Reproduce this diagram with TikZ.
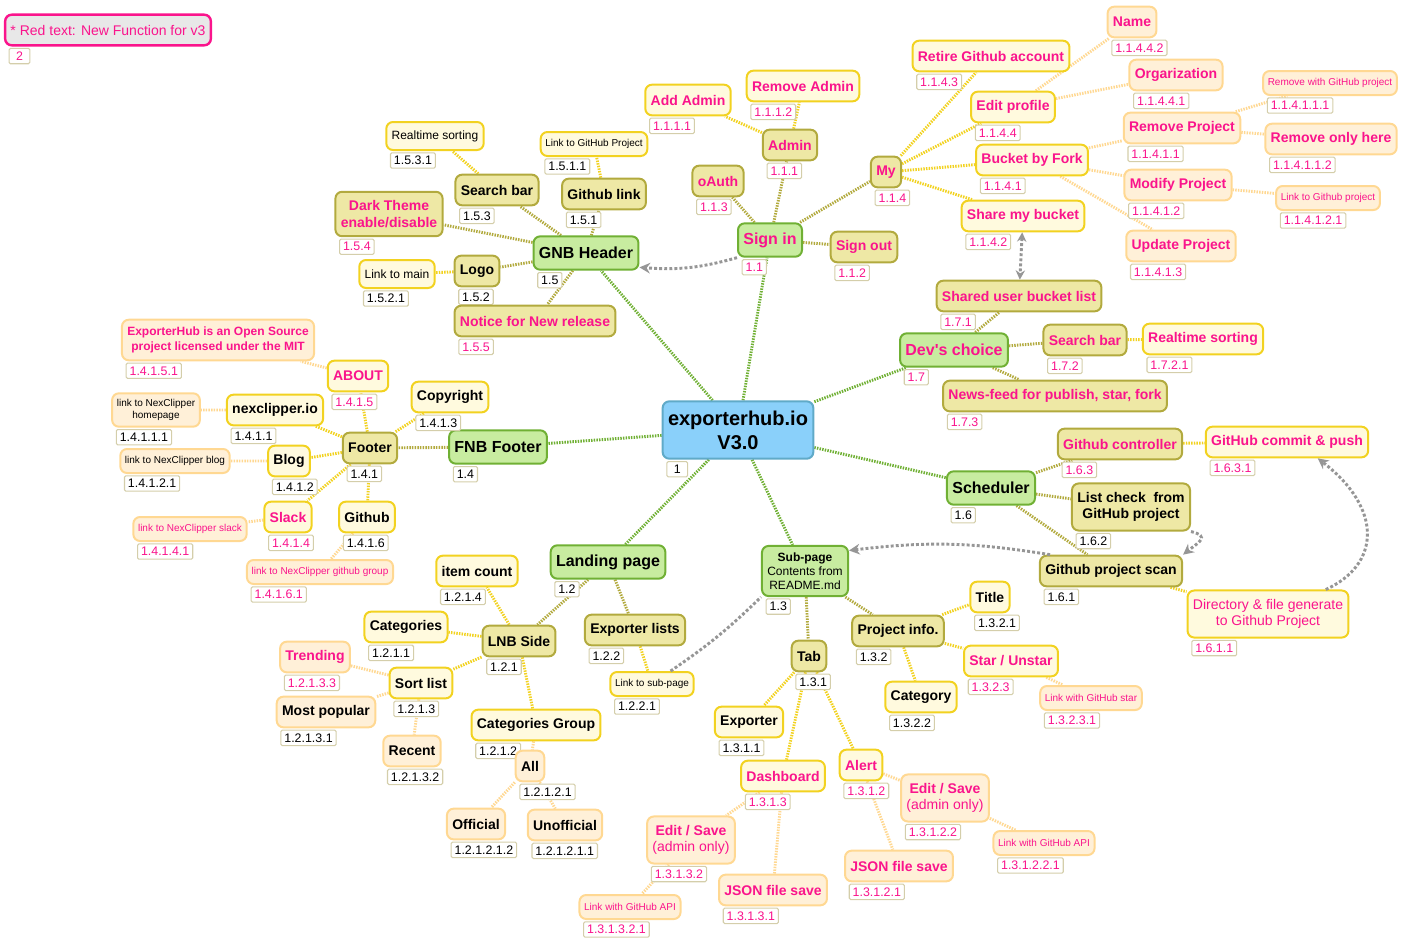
\documentclass[tikz,border=0pt]{standalone}
\usepackage{fontspec}
\setmainfont{Liberation Sans}
\usepackage{tikz}
\usetikzlibrary{positioning}
\usetikzlibrary{arrows.meta}
\usetikzlibrary{backgrounds}

\definecolor{pk}{RGB}{250,20,140}
\definecolor{rootf}{RGB}{138,208,250}
\definecolor{rootd}{RGB}{96,170,200}
\definecolor{grnf}{RGB}{200,236,160}
\definecolor{grnd}{RGB}{112,176,52}
\definecolor{olvf}{RGB}{238,232,165}
\definecolor{olvd}{RGB}{178,170,62}
\definecolor{ylwf}{RGB}{255,250,222}
\definecolor{ylwd}{RGB}{242,210,32}
\definecolor{orgf}{RGB}{255,240,216}
\definecolor{orgd}{RGB}{255,216,146}
\definecolor{numd}{RGB}{212,206,170}
\definecolor{legf}{RGB}{232,232,232}
\definecolor{gry}{RGB}{150,150,150}

\begin{document}
\begin{tikzpicture}[x=0.75pt, y=-0.75pt,
  box/.style={draw, rounded corners=5pt, line width=1.5pt, inner xsep=4pt, inner ysep=3pt,
    minimum height=23pt, font=\fontsize{10.5}{12.5}\selectfont\bfseries},
  root/.style={box, fill=rootf, draw=rootd, align=center, inner ysep=7pt,
    font=\fontsize{15}{18}\selectfont\bfseries},
  lv1/.style={box, fill=grnf, draw=grnd, minimum height=25pt, font=\fontsize{12}{14}\selectfont\bfseries},
  lv2/.style={box, fill=olvf, draw=olvd},
  lv3/.style={box, fill=ylwf, draw=ylwd},
  lv4/.style={box, fill=orgf, draw=orgd},
  leg/.style={box, fill=legf, draw=pk, line width=1.8pt, text=pk, font=\fontsize{10.5}{12.5}\selectfont},
  two/.style={align=center, inner ysep=6.5pt},
  mid/.style={font=\fontsize{9}{11}\selectfont, minimum height=21pt},
  small/.style={font=\fontsize{7.5}{9}\selectfont, minimum height=18pt, inner xsep=3.5pt},
  nv/.style={text=pk},
  num/.style={draw=numd, fill=white, line width=0.8pt, rounded corners=1pt, inner xsep=2.6pt,
    inner ysep=1pt, minimum height=11.5pt, minimum width=15.5pt, font=\fontsize{9.3}{10}\selectfont},
  tg/.style={num, below right=1pt and 3.5pt of #1.south west},
  tgr/.style={tg=#1, text=pk},
  lk/.style={line width=2.2pt, dash pattern=on 1.1pt off 0.9pt},
  eg/.style={lk, draw=grnd},
  eo/.style={lk, draw=olvd},
  ey/.style={lk, draw=ylwd},
  er/.style={lk, draw=orgd},
  gl/.style={draw=gry, line width=2.2pt, dash pattern=on 2.2pt off 1.6pt},
  ga/.style={gl, -{Stealth[length=8pt,width=8pt]}}
]
\useasboundingbox (0,0) rectangle (1404,943);

\node[leg] (N2) at (108,30) {* Red text: New Function for v3};
\node[tgr=N2] (T2) {2};

\node[root] (N1) at (738,430) {exporterhub.io\\V3.0};
\node[tg=N1] (T1) {1};

\node[lv1] (N15) at (586,253) {GNB Header};
\node[tg=N15] (T15) {1.5};
\node[lv2] (N153) at (497,190) {Search bar};
\node[tg=N153] (T153) {1.5.3};
\node[lv3,mid] (N1531) at (435,136) {Realtime sorting};
\node[tg=N1531] (T1531) {1.5.3.1};
\node[lv2] (N151) at (604,194) {Github link};
\node[tg=N151] (T151) {1.5.1};
\node[lv3,small] (N1511) at (594,144) {Link to GitHub Project};
\node[tg=N1511] (T1511) {1.5.1.1};
\node[lv2,nv,two] (N154) at (389,214) {Dark Theme\\enable/disable};
\node[tgr=N154] (T154) {1.5.4};
\node[lv2] (N152) at (477,271) {Logo};
\node[tg=N152] (T152) {1.5.2};
\node[lv3,mid] (N1521) at (397,274) {Link to main};
\node[tg=N1521] (T1521) {1.5.2.1};
\node[lv2,nv] (N155) at (535,321) {Notice for New release};
\node[tgr=N155] (T155) {1.5.5};

\node[lv1,nv] (N11) at (770,240) {Sign in};
\node[tgr=N11] (T11) {1.1};
\node[lv2,nv] (N111) at (790,145) {Admin};
\node[tgr=N111] (T111) {1.1.1};
\node[lv3,nv] (N1111) at (688,100) {Add Admin};
\node[tgr=N1111] (T1111) {1.1.1.1};
\node[lv3,nv] (N1112) at (803,86) {Remove Admin};
\node[tgr=N1112] (T1112) {1.1.1.2};
\node[lv2,nv] (N113) at (718,181) {oAuth};
\node[tgr=N113] (T113) {1.1.3};
\node[lv2,nv] (N112) at (864,247) {Sign out};
\node[tgr=N112] (T112) {1.1.2};
\node[lv2,nv] (N114) at (886,172) {My};
\node[tgr=N114] (T114) {1.1.4};
\node[lv3,nv] (N1143) at (991,56) {Retire Github account};
\node[tgr=N1143] (T1143) {1.1.4.3};
\node[lv3,nv] (N1144) at (1013,107) {Edit profile};
\node[tgr=N1144] (T1144) {1.1.4.4};
\node[lv3,nv] (N1141) at (1032,160) {Bucket by Fork};
\node[tgr=N1141] (T1141) {1.1.4.1};
\node[lv3,nv] (N1142) at (1023,216) {Share my bucket};
\node[tgr=N1142] (T1142) {1.1.4.2};
\node[lv4,nv] (N11442) at (1132,22) {Name};
\node[tgr=N11442] (T11442) {1.1.4.4.2};
\node[lv4,nv] (N11441) at (1176,75) {Orgarization};
\node[tgr=N11441] (T11441) {1.1.4.4.1};
\node[lv4,nv] (N11411) at (1182,128) {Remove Project};
\node[tgr=N11411] (T11411) {1.1.4.1.1};
\node[lv4,nv,small] (N114111) at (1330,83) {Remove with GitHub project};
\node[tgr=N114111] (T114111) {1.1.4.1.1.1};
\node[lv4,nv] (N114112) at (1331,139) {Remove only here};
\node[tgr=N114112] (T114112) {1.1.4.1.1.2};
\node[lv4,nv] (N11412) at (1178,185) {Modify Project};
\node[tgr=N11412] (T11412) {1.1.4.1.2};
\node[lv4,nv,small] (N114121) at (1328,198) {Link to Github project};
\node[tgr=N114121] (T114121) {1.1.4.1.2.1};
\node[lv4,nv] (N11413) at (1181,246) {Update Project};
\node[tgr=N11413] (T11413) {1.1.4.1.3};

\node[lv1,nv] (N17) at (954,350) {Dev\textquotesingle s choice};
\node[tgr=N17] (T17) {1.7};
\node[lv2,nv] (N171) at (1019,296) {Shared user bucket list};
\node[tgr=N171] (T171) {1.7.1};
\node[lv2,nv] (N172) at (1085,340) {Search bar};
\node[tgr=N172] (T172) {1.7.2};
\node[lv3,nv] (N1721) at (1203,339) {Realtime sorting};
\node[tgr=N1721] (T1721) {1.7.2.1};
\node[lv2,nv] (N173) at (1055,396) {News-feed for publish, star, fork};
\node[tgr=N173] (T173) {1.7.3};

\node[lv1] (N16) at (991,488) {Scheduler};
\node[tg=N16] (T16) {1.6};
\node[lv2,nv] (N163) at (1120,444) {Github controller};
\node[tgr=N163] (T163) {1.6.3};
\node[lv3,nv] (N1631) at (1287,442) {GitHub commit \& push};
\node[tgr=N1631] (T1631) {1.6.3.1};
\node[lv2,two] (N162) at (1131,507) {List check\ \ from\\GitHub project};
\node[tg=N162] (T162) {1.6.2};
\node[lv2] (N161) at (1111,571) {Github project scan};
\node[tg=N161] (T161) {1.6.1};
\node[lv3,nv,two,font=\fontsize{10.5}{12.5}\selectfont] (N1611) at (1268,614) {Directory \& file generate\\to Github Project};
\node[tgr=N1611] (T1611) {1.6.1.1};

\node[lv1] (N14) at (498,447) {FNB Footer};
\node[tg=N14] (T14) {1.4};
\node[lv2] (N141) at (370,448) {Footer};
\node[tg=N141] (T141) {1.4.1};
\node[lv3] (N1413) at (450,397) {Copyright};
\node[tg=N1413] (T1413) {1.4.1.3};
\node[lv3,nv] (N1415) at (358,376) {ABOUT};
\node[tgr=N1415] (T1415) {1.4.1.5};
\node[lv4,nv,align=center,inner ysep=5.5pt,font=\fontsize{9}{11}\selectfont\bfseries] (N14151) at (218,340) {ExporterHub is an Open Source\\project licensed under the MIT};
\node[tgr=N14151] (T14151) {1.4.1.5.1};
\node[lv3] (N1411) at (275,410) {nexclipper.io};
\node[tg=N1411] (T1411) {1.4.1.1};
\node[lv4,small,align=center,inner ysep=4.5pt] (N14111) at (156,410) {link to NexClipper\\homepage};
\node[tg=N14111] (T14111) {1.4.1.1.1};
\node[lv3] (N1412) at (289,461) {Blog};
\node[tg=N1412] (T1412) {1.4.1.2};
\node[lv4,small] (N14121) at (175,461) {link to NexClipper blog};
\node[tg=N14121] (T14121) {1.4.1.2.1};
\node[lv3,nv] (N1414) at (288,517) {Slack};
\node[tgr=N1414] (T1414) {1.4.1.4};
\node[lv4,nv,small] (N14141) at (190,529) {link to NexClipper slack};
\node[tgr=N14141] (T14141) {1.4.1.4.1};
\node[lv3] (N1416) at (367,517) {Github};
\node[tg=N1416] (T1416) {1.4.1.6};
\node[lv4,nv,small] (N14161) at (320,572) {link to NexClipper github group};
\node[tgr=N14161] (T14161) {1.4.1.6.1};

\node[lv1] (N12) at (608,562) {Landing page};
\node[tg=N12] (T12) {1.2};
\node[lv2] (N121) at (519,641) {LNB Side};
\node[tg=N121] (T121) {1.2.1};
\node[lv3] (N1214) at (477,571) {item count};
\node[tg=N1214] (T1214) {1.2.1.4};
\node[lv3] (N1211) at (406,627) {Categories};
\node[tg=N1211] (T1211) {1.2.1.1};
\node[lv3] (N1213) at (421,683) {Sort list};
\node[tg=N1213] (T1213) {1.2.1.3};
\node[lv4,nv] (N12133) at (315,657) {Trending};
\node[tgr=N12133] (T12133) {1.2.1.3.3};
\node[lv4] (N12131) at (326,712) {Most popular};
\node[tg=N12131] (T12131) {1.2.1.3.1};
\node[lv4] (N12132) at (412,751) {Recent};
\node[tg=N12132] (T12132) {1.2.1.3.2};
\node[lv3] (N1212) at (536,725) {Categories Group};
\node[tg=N1212] (T1212) {1.2.1.2};
\node[lv4] (N12121) at (530,766) {All};
\node[tg=N12121] (T12121) {1.2.1.2.1};
\node[lv4] (N121212) at (476,824) {Official};
\node[tg=N121212] (T121212) {1.2.1.2.1.2};
\node[lv4] (N121211) at (565,825) {Unofficial};
\node[tg=N121211] (T121211) {1.2.1.2.1.1};
\node[lv2] (N122) at (635,630) {Exporter lists};
\node[tg=N122] (T122) {1.2.2};
\node[lv3,small] (N1221) at (652,684) {Link to sub-page};
\node[tg=N1221] (T1221) {1.2.2.1};

\node[lv1,align=center,inner ysep=5pt,font=\fontsize{9}{10.5}\selectfont] (N13) at (805,571) {\textbf{Sub-page}\\Contents from\\README.md};
\node[tg=N13] (T13) {1.3};
\node[lv2] (N131) at (809,656) {Tab};
\node[tg=N131] (T131) {1.3.1};
\node[lv3] (N1311) at (749,722) {Exporter};
\node[tg=N1311] (T1311) {1.3.1.1};
\node[lv3,nv] (N1313) at (783,776) {Dashboard};
\node[tgr=N1313] (T1313) {1.3.1.3};
\node[lv4,nv,two] (N13132) at (691,840) {Edit / Save\\{\mdseries (admin only)}};
\node[tgr=N13132] (T13132) {1.3.1.3.2};
\node[lv4,nv,small] (N131321) at (630,907) {Link with GitHub API};
\node[tgr=N131321] (T131321) {1.3.1.3.2.1};
\node[lv4,nv] (N13131) at (773,890) {JSON file save};
\node[tgr=N13131] (T13131) {1.3.1.3.1};
\node[lv3,nv] (N1312) at (861,765) {Alert};
\node[tgr=N1312] (T1312) {1.3.1.2};
\node[lv4,nv,two] (N13122) at (945,798) {Edit / Save\\{\mdseries (admin only)}};
\node[tgr=N13122] (T13122) {1.3.1.2.2};
\node[lv4,nv,small] (N131221) at (1044,843) {Link with GitHub API};
\node[tgr=N131221] (T131221) {1.3.1.2.2.1};
\node[lv4,nv] (N13121) at (899,866) {JSON file save};
\node[tgr=N13121] (T13121) {1.3.1.2.1};
\node[lv2] (N132) at (898,631) {Project info.};
\node[tg=N132] (T132) {1.3.2};
\node[lv3] (N1321) at (990,597) {Title};
\node[tg=N1321] (T1321) {1.3.2.1};
\node[lv3] (N1322) at (921,697) {Category};
\node[tg=N1322] (T1322) {1.3.2.2};
\node[lv3,nv] (N1323) at (1011,661) {Star / Unstar};
\node[tgr=N1323] (T1323) {1.3.2.3};
\node[lv4,nv,small] (N13231) at (1091,698) {Link with GitHub star};
\node[tgr=N13231] (T13231) {1.3.2.3.1};

\begin{pgfonlayer}{background}
\draw[eg] (N1) -- (N15) (N1) -- (N11) (N1) -- (N17) (N1) -- (N16) (N1) -- (N14) (N1) -- (N12) (N1) -- (N13);
\draw[eo] (N15) -- (N153) (N15) -- (N151) (N15) -- (N154) (N15) -- (N152) (N15) -- (N155);
\draw[eo] (N11) -- (N111) (N11) -- (N113) (N11) -- (N112) (N11) -- (N114);
\draw[eo] (N17) -- (N171) (N17) -- (N172) (N17) -- (N173);
\draw[eo] (N16) -- (N163) (N16) -- (N162) (N16) -- (N161);
\draw[eo] (N14) -- (N141) (N12) -- (N121) (N12) -- (N122) (N13) -- (N131) (N13) -- (N132);
\draw[ey] (N153) -- (N1531) (N151) -- (N1511) (N152) -- (N1521);
\draw[ey] (N111) -- (N1111) (N111) -- (N1112);
\draw[ey] (N114) -- (N1143) (N114) -- (N1144) (N114) -- (N1141) (N114) -- (N1142);
\draw[ey] (N172) -- (N1721) (N163) -- (N1631) (N161) -- (N1611);
\draw[ey] (N141) -- (N1413) (N141) -- (N1415) (N141) -- (N1411) (N141) -- (N1412) (N141) -- (N1414) (N141) -- (N1416);
\draw[ey] (N121) -- (N1214) (N121) -- (N1211) (N121) -- (N1213) (N121) -- (N1212) (N122) -- (N1221);
\draw[ey] (N131) -- (N1311) (N131) -- (N1313) (N131) -- (N1312);
\draw[ey] (N132) -- (N1321) (N132) -- (N1322) (N132) -- (N1323);
\draw[er] (N1144) -- (N11442) (N1144) -- (N11441);
\draw[er] (N1141) -- (N11411) (N1141) -- (N11412) (N1141) -- (N11413);
\draw[er] (N11411) -- (N114111) (N11411) -- (N114112) (N11412) -- (N114121);
\draw[er] (N1415) -- (N14151) (N1411) -- (N14111) (N1412) -- (N14121) (N1414) -- (N14141) (N1416) -- (N14161);
\draw[er] (N1213) -- (N12133) (N1213) -- (N12131) (N1213) -- (N12132);
\draw[er] (N1212) -- (N12121) (N12121) -- (N121212) (N12121) -- (N121211);
\draw[er] (N1313) -- (N13132) (N1313) -- (N13131) (N13132) -- (N131321);
\draw[er] (N1312) -- (N13122) (N1312) -- (N13121) (N13122) -- (N131221);
\draw[er] (N1323) -- (N13231);
\end{pgfonlayer}

\draw[ga] (N11.south west) to[bend left=10] (N15.-15);
\draw[gl, {Stealth[length=7pt,width=7pt]}-{Stealth[length=7pt,width=7pt]}] (N1142) -- (N171);
\draw[ga] (N161.165) to[bend right=8] (N13.25);
\draw[ga] (N162.south east) .. controls +(20,5) and +(15,-12) .. (N161.north east);
\draw[ga] (N1611.23) .. controls +(55,-25) and +(65,50) .. (N1631.-28);
\draw[gl] (N1221.35) to[bend right=5] (N13.south west);
\end{tikzpicture}
\end{document}
